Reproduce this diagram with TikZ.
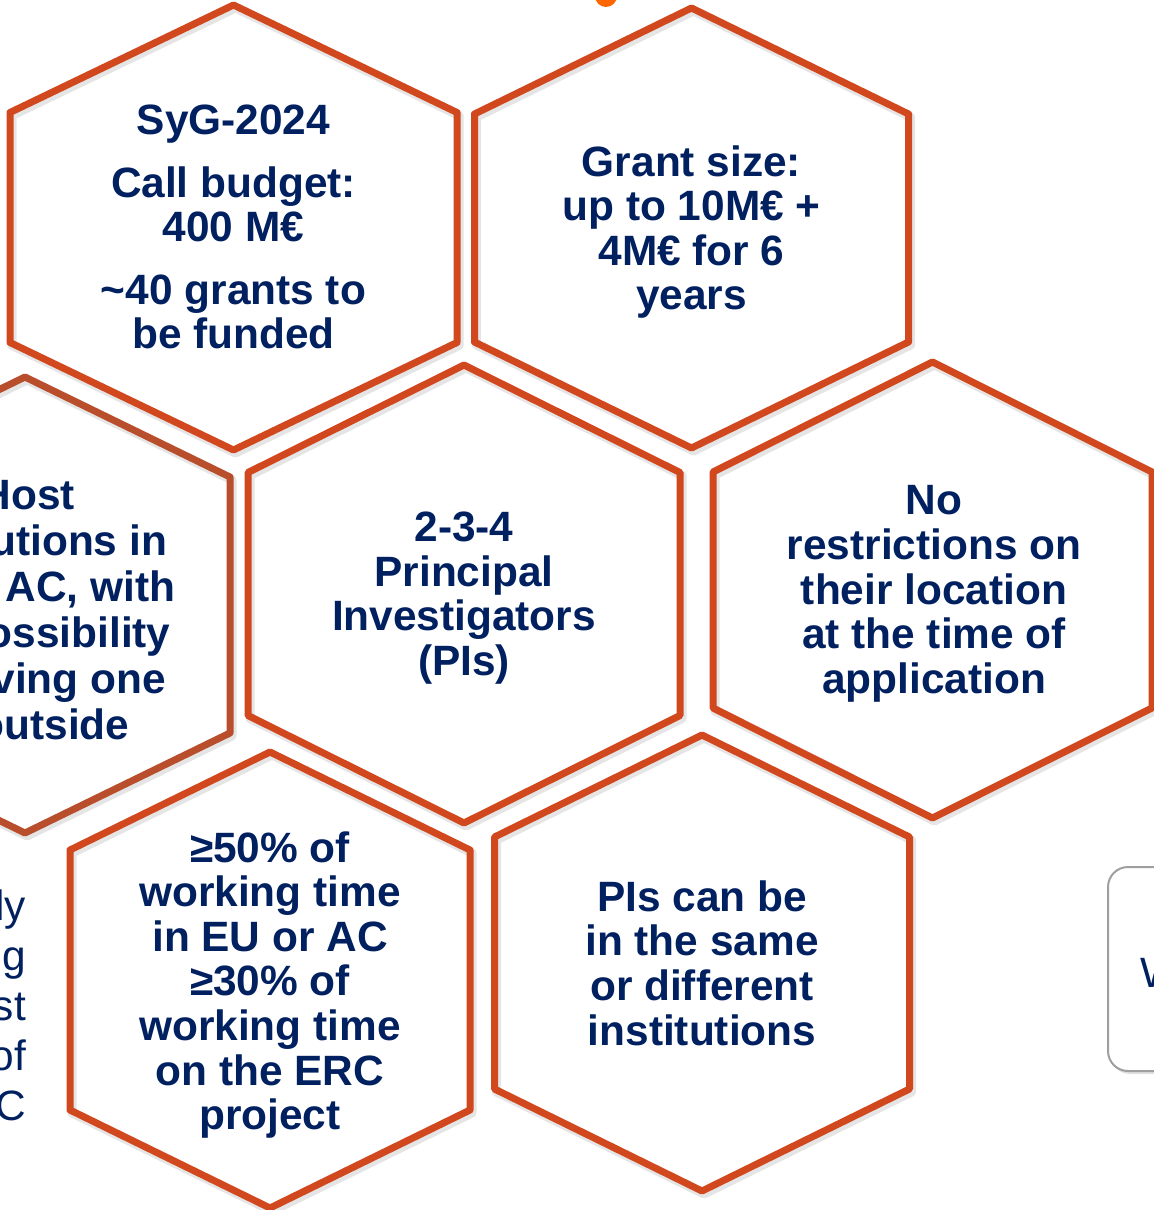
\documentclass[tikz,border=0pt]{standalone}
\usepackage{fontspec}
\setmainfont{Liberation Sans}
\usetikzlibrary{positioning}
\definecolor{hexred}{RGB}{210,72,30}
\definecolor{hexbrown}{RGB}{184,78,44}
\definecolor{navy}{RGB}{0,32,96}
\definecolor{dotorange}{RGB}{255,102,0}
\tikzset{
  hexline/.style={line width=3.5pt, line join=round},
  hexshadow/.style={line width=4.5pt, line join=round, black, opacity=0.10},
  hextext/.style={align=center, text=navy, font=\fontsize{21.2}{22.3}\selectfont\bfseries},
  sidetext/.style={text=navy, font=\fontsize{21.2}{25}\selectfont},
  sidebox/.style={draw=gray!75, line width=1pt, rounded corners=10pt, fill=white},
}

\begin{document}
\begin{tikzpicture}[x=0.5pt, y=-0.5pt]

  \clip (0,0) rectangle (1154,1210);
  \fill[white] (0,0) rectangle (1154,1210);

  % dot peeking in from above
  \fill[dotorange] (606,-4) circle (11);

  % side panel on the right
  \fill[black, opacity=0.12, rounded corners=10pt] (1110,870) rectangle (1330,1074);
  \node[sidebox, anchor=north west, minimum width=110pt, minimum height=102pt] (sidebox) at (1107,866) {};
  \node[sidetext, anchor=west] (sidew) at (1133,973) {W};

  % hexagons: centre x / centre y / half width / half height / half side / colour
  \foreach \cx/\cy/\a/\b/\c in {233.5/227.5/223.5/222.5/115, 691.5/228/217/220/114,
      25/605/205/228/128, 464/594/216/229/121.5, 932.5/590/219.5/228/118,
      270/980/200/228/130, 702/963/207.5/228/126}
    \draw[hexshadow, shift={(2,3)}] (\cx,\cy-\b) -- (\cx+\a,\cy-\c) -- (\cx+\a,\cy+\c)
      -- (\cx,\cy+\b) -- (\cx-\a,\cy+\c) -- (\cx-\a,\cy-\c) -- cycle;

  \foreach \cx/\cy/\a/\b/\c/\col in {233.5/227.5/223.5/222.5/115/hexred, 691.5/228/217/220/114/hexred,
      25/605/205/228/128/hexbrown, 464/594/216/229/121.5/hexred, 932.5/590/219.5/228/118/hexred,
      270/980/200/228/130/hexred, 702/963/207.5/228/126/hexred}
    \draw[hexline, draw=\col] (\cx,\cy-\b) -- (\cx+\a,\cy-\c) -- (\cx+\a,\cy+\c)
      -- (\cx,\cy+\b) -- (\cx-\a,\cy+\c) -- (\cx-\a,\cy-\c) -- cycle;

  % hexagon texts
  \node[hextext] (syg) at (233.5,227) {SyG-2024\\[9pt] Call budget:\\ 400 M€\\[9pt] \textasciitilde40 grants to\\ be funded};
  \node[hextext] (grant) at (691.5,232) {Grant size:\\ up to 10M€ +\\ 4M€ for 6\\ years};
  \node[hextext, font=\fontsize{21.2}{23}\selectfont\bfseries] (host) at (28,610) {Host\\ institutions in\\ EU or AC, with\\ the possibility\\ of having one\\ PI outside};
  \node[hextext] (pis) at (464,598) {2-3-4\\ Principal\\ Investigators\\ (PIs)};
  \node[hextext] (norestr) at (934,594) {No\\ restrictions on\\ their location\\ at the time of\\ application};
  \node[hextext] (worktime) at (270,985) {≥50\% of\\ working time\\ in EU or AC\\ ≥30\% of\\ working time\\ on the ERC\\ project};
  \node[hextext] (sameinst) at (702,963) {PIs can be\\ in the same\\ or different\\ institutions};

  % text cut by the left edge
  \node[sidetext, align=right, anchor=east] (leftcut) at (33,1005) {ly\\ g\\ st\\ of\\ C};

\end{tikzpicture}
\end{document}
